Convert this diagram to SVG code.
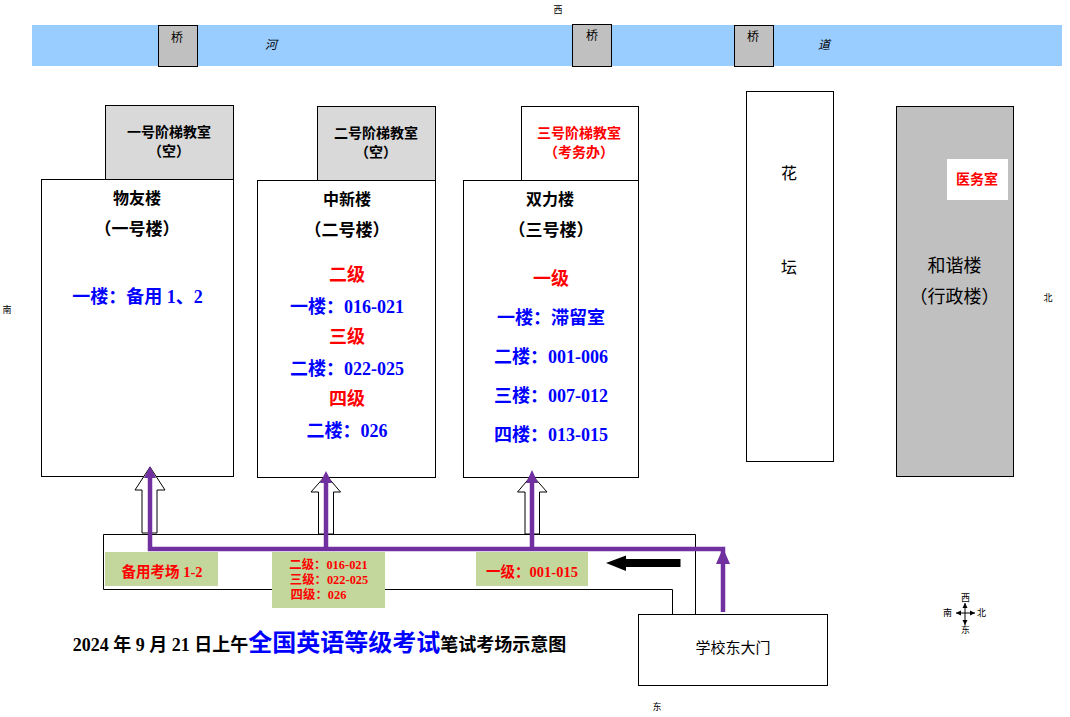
<svg xmlns="http://www.w3.org/2000/svg" width="1070" height="717" viewBox="0 0 1070 717">
<style>
text{font-family:"Liberation Serif","Noto Sans CJK SC",serif;text-anchor:middle;fill:#000}
.b{stroke:#000;stroke-width:1;fill:#fff}
.g{fill:#d9d9d9}.k{fill:#c0c0c0}
.h{font-weight:700;font-size:16px}
.o{font-weight:700;font-size:17px}
.f{font-weight:700;font-size:18px}
.t{font-size:12px;font-family:"Noto Sans CJK SC",sans-serif}
.i{font-style:italic;font-size:12px;font-family:"Noto Sans CJK SC",sans-serif}
.l{font-size:14px;font-weight:700}
.m{font-size:14.5px;font-weight:700}
.q{font-size:12.400px;font-weight:700}
.red{fill:#f00}.blue{fill:#00f}
.n{font-size:16px;font-family:"Noto Sans CJK SC",sans-serif}
.a{font-size:18px;font-family:"Noto Sans CJK SC",sans-serif}
.p{fill:none;stroke:#7030a0;stroke-width:4.5}
.pf{fill:#7030a0}
.ho{fill:#fff;stroke:#000;stroke-width:1}
.gr{fill:#c3d69b}
.c{font-size:9px;font-family:"Noto Sans CJK SC",sans-serif}
</style>
<defs>
<marker id="ma" markerUnits="userSpaceOnUse" markerWidth="6" markerHeight="6" refX="5" refY="3" orient="auto"><path d="M0,0.5L5,3L0,5.500z" fill="#000"/></marker>
</defs>
<g id="river"><rect x="32" y="25" width="1030" height="41" fill="#99ccff"/>
<text class="i" x="271" y="49">河</text><text class="i" x="824" y="49">道</text></g>
<g id="bridge1"><rect class="b k" x="158.500" y="25.500" width="39" height="41"/><text class="t" x="177" y="42">桥</text></g>
<g id="bridge2"><rect class="b k" x="572.500" y="24.500" width="39" height="42"/><text class="t" x="592" y="40">桥</text></g>
<g id="bridge3"><rect class="b k" x="734.500" y="25.500" width="39" height="41"/><text class="t" x="753" y="41">桥</text></g>

<g id="hall1"><rect class="b g" x="105.500" y="105.500" width="128" height="74"/><text class="l" x="169" y="137">一号阶梯教室</text><text class="l" x="169" y="156">（空）</text></g>
<g id="hall2"><rect class="b g" x="317.500" y="106.500" width="118" height="74"/><text class="l" x="376" y="138">二号阶梯教室</text><text class="l" x="376" y="157">（空）</text></g>
<g id="hall3"><rect class="b" x="521.500" y="106.500" width="117" height="74"/><text class="l red" x="579" y="138">三号阶梯教室</text><text class="l red" x="579" y="157">（考务办）</text></g>

<g id="building1"><rect class="b" x="41.500" y="179.500" width="192" height="297"/>
<text class="h" x="137" y="204">物友楼</text><text class="o" x="137" y="235">（一号楼）</text>
<text class="f blue" x="137.500" y="303">一楼：备用 1、2</text></g>
<g id="building2"><rect class="b" x="257.500" y="180.500" width="178" height="297"/>
<text class="h" x="347" y="205">中新楼</text><text class="o" x="347" y="236">（二号楼）</text>
<text class="f red" x="347" y="281">二级</text><text class="f blue" x="347" y="313">一楼：016-021</text>
<text class="f red" x="347" y="343">三级</text><text class="f blue" x="347" y="375">二楼：022-025</text>
<text class="f red" x="347" y="405">四级</text><text class="f blue" x="347" y="437">二楼：026</text></g>
<g id="building3"><rect class="b" x="463.500" y="180.500" width="175" height="297"/>
<text class="h" x="550" y="205">双力楼</text><text class="o" x="551" y="236">（三号楼）</text>
<text class="f red" x="551" y="285">一级</text><text class="f blue" x="551" y="324">一楼：滞留室</text>
<text class="f blue" x="551" y="363">二楼：001-006</text><text class="f blue" x="551" y="402">三楼：007-012</text>
<text class="f blue" x="551" y="441">四楼：013-015</text></g>

<g id="flowerbed"><rect class="b" x="746.500" y="91.500" width="87" height="370"/><text class="n" x="789" y="179">花</text><text class="n" x="789" y="273">坛</text></g>
<g id="admin"><rect class="b k" x="896.500" y="106.500" width="117" height="370"/><text class="a" x="954.500" y="272">和谐楼</text><text class="a" x="954.500" y="303">（行政楼）</text></g>
<g id="clinic"><rect x="947" y="159" width="61" height="41" fill="#fff"/><text class="l red" x="977" y="184">医务室</text></g>

<g id="road"><path d="M672.500,614V589.500H103.500V534.500H695.500V614" fill="none" stroke="#000"/></g>
<g id="gate"><rect class="b" x="638.500" y="614.500" width="189" height="71"/><text x="733" y="653" style="font-size:15px;font-family:'Noto Sans CJK SC',sans-serif">学校东大门</text></g>

<g id="connectors">
<path class="ho" d="M150,467L165,490H157V533H142V490H135z"/>
<path class="ho" d="M326,475L340.500,492H333.500V534H318.500V492H311z"/>
<path class="ho" d="M532,475L547,492H539.500V534H525V492H517.500z"/>
<path class="p" d="M723,612V549H150V476"/>
<path class="p" d="M326,549V480"/>
<path class="p" d="M532,549V480"/>
<path class="pf" d="M150,466L156,478H144z"/>
<path class="pf" d="M326,471L332,483H320z"/>
<path class="pf" d="M532,470L538,483H526z"/>
<path class="pf" d="M723,548L730,564H716z"/>
<path d="M606,563L626,555.500V559H680.500V567H626V571z" fill="#000"/>
</g>

<g id="label1"><rect class="gr" x="105" y="552" width="113" height="34"/><text class="m red" x="162" y="577">备用考场 1-2</text></g>
<g id="label2"><rect class="gr" x="272" y="552" width="113" height="56"/>
<text class="q red" x="328.500" y="569">二级：016-021</text>
<text class="q red" x="329" y="584">三级：022-025</text>
<text class="q red" x="318.500" y="599">四级：026</text></g>
<g id="label3"><rect class="gr" x="476" y="552" width="112" height="34"/><text class="m red" x="532" y="577">一级：001-015</text></g>

<g id="title"><text x="319.500" y="651" style="font-size:18px;font-weight:700">2024 年 9 月 21 日上午<tspan style="font-size:24px;fill:#00f">全国英语等级考试</tspan>笔试考场示意图</text></g>

<g id="directions"><text class="c" x="558" y="13">西</text><text class="c" x="7" y="313">南</text><text class="c" x="1048" y="301">北</text><text class="c" x="657" y="710">东</text></g>
<g id="compass">
<g fill="none" stroke="#000" marker-end="url(#ma)"><path d="M965,613V603"/><path d="M965,613V625"/><path d="M965,613H956"/><path d="M965,613H975"/></g>
<text class="c" x="965.500" y="601">西</text><text class="c" x="947.500" y="616">南</text><text class="c" x="981.500" y="616">北</text><text class="c" x="965.500" y="633">东</text></g>
</svg>
